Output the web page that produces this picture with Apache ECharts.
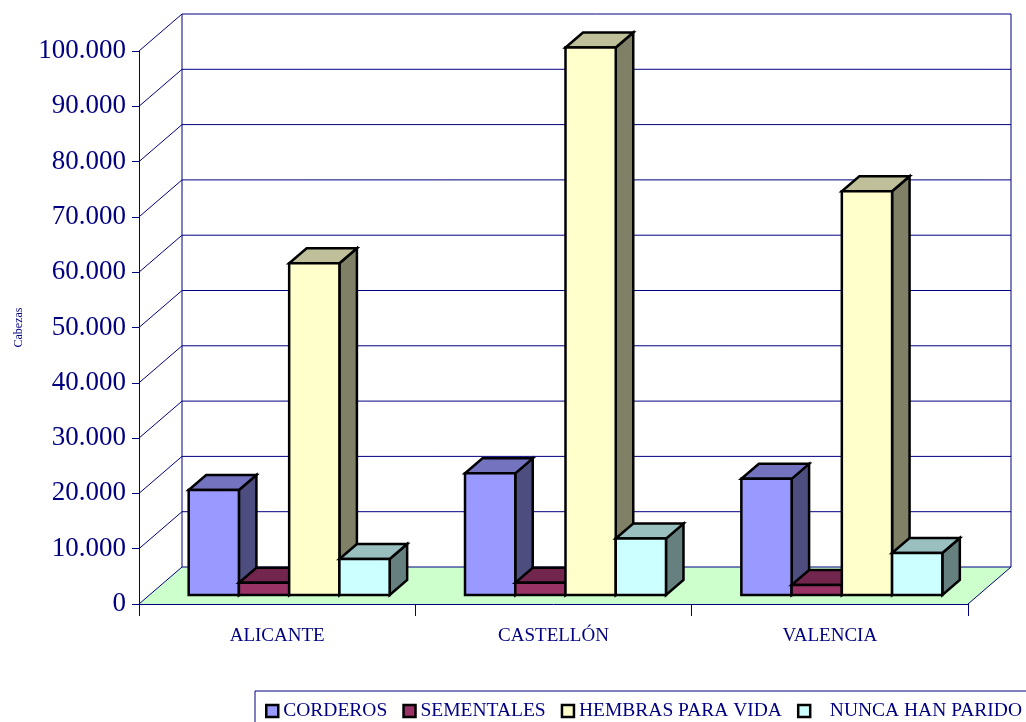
<!DOCTYPE html>
<html><head><meta charset="utf-8">
<script src="https://cdn.jsdelivr.net/npm/echarts@6/dist/echarts.min.js"></script>
<style>html,body{margin:0;padding:0;background:#fff}#c{width:1026px;height:722px}</style>
</head><body><div id="c"></div>
<script>
// ---- data ----
const categories = ['ALICANTE', 'CASTELLÓN', 'VALENCIA'];
const seriesNames = ['CORDEROS', 'SEMENTALES', 'HEMBRAS PARA VIDA', '   NUNCA HAN PARIDO'];
const corderos = [19000, 22000, 21000];
const sementales = [2200, 2200, 1800];
const hembras = [60000, 99000, 73000];
const nuncaHanParido = [6500, 10200, 7600];
const yTicks = [0, 10000, 20000, 30000, 40000, 50000, 60000, 70000, 80000, 90000, 100000];
const yAxisName = 'Cabezas';

// ---- style ----
const NAVY = '#000080';
const FONT = '"Liberation Serif", "Times New Roman", serif';
const DX = 43, DY = -37;          // chart depth
const FX = 12, FY = -9;           // bar front plane offset
const BX = 17.5, BY = -15;        // bar depth
const faces = [
  {front: '#9999FF', top: '#7373BF', side: '#4D4D80'},
  {front: '#993366', top: '#73264D', side: '#4D1A33'},
  {front: '#FFFFCC', top: '#BFBF99', side: '#808066'},
  {front: '#CCFFFF', top: '#99BFBF', side: '#668080'}
];
const allValues = [corderos, sementales, hembras, nuncaHanParido];

function fmt(v) { return String(v).replace(/\B(?=(\d{3})+(?!\d))/g, '.'); }

function frameRender(params, api) {
  const cs = params.coordSys;
  const xl = cs.x, xr = cs.x + cs.width;
  const y0 = api.coord([0, 0])[1];
  const yTop = api.coord([0, yTicks[yTicks.length - 1]])[1];
  const ls = {stroke: NAVY, lineWidth: 1, fill: null};
  const ch = [];
  ch.push({type: 'polygon', shape: {points: [[xl, y0], [xl + DX, y0 + DY], [xr + DX, y0 + DY], [xr, y0]]},
    style: {fill: '#CCFFCC', stroke: null}});
  yTicks.forEach(function (v) {
    const y = api.coord([0, v])[1];
    ch.push({type: 'line', shape: {x1: xl, y1: y, x2: xl + DX, y2: y + DY}, style: ls});
    ch.push({type: 'line', shape: {x1: xl + DX, y1: y + DY, x2: xr + DX, y2: y + DY}, style: ls});
  });
  ch.push({type: 'line', shape: {x1: xl + DX, y1: yTop + DY, x2: xl + DX, y2: y0 + DY}, style: ls});
  ch.push({type: 'line', shape: {x1: xr + DX, y1: yTop + DY, x2: xr + DX, y2: y0 + DY}, style: ls});
  ch.push({type: 'line', shape: {x1: xr, y1: y0, x2: xr + DX, y2: y0 + DY}, style: ls});
  return {type: 'group', children: ch};
}

function barRenderer(si) {
  return function (params, api) {
    const c = api.value(0), v = api.value(1);
    const p0 = api.coord([c, 0]), p1 = api.coord([c, v]);
    const band = api.size([1, 0])[0];
    const w = band / 5.5;
    const x = p0[0] - 2 * w + si * w + FX;
    const yb = p0[1] + FY, yt = p1[1] + FY;
    const f = faces[si];
    const st = {stroke: '#000', lineWidth: 2.5, lineJoin: 'miter'};
    return {type: 'group', children: [
      {type: 'polygon', shape: {points: [[x + w, yt], [x + w + BX, yt + BY], [x + w + BX, yb + BY], [x + w, yb]]},
        style: Object.assign({fill: f.side}, st)},
      {type: 'polygon', shape: {points: [[x, yt], [x + w, yt], [x + w + BX, yt + BY], [x + BX, yt + BY]]},
        style: Object.assign({fill: f.top}, st)},
      {type: 'rect', shape: {x: x, y: yt, width: w, height: yb - yt},
        style: Object.assign({fill: f.front}, st)}
    ]};
  };
}

const series = [{
  type: 'custom', name: 'frame', silent: true, clip: false, z: 1,
  data: [[0, 0]], encode: {x: 0, y: 1}, renderItem: frameRender
}];
allValues.forEach(function (vals, si) {
  series.push({
    type: 'custom', name: seriesNames[si], silent: true, clip: false, z: 2,
    itemStyle: {color: faces[si].front},
    data: vals.map(function (v, i) { return [i, v]; }),
    encode: {x: 0, y: 1},
    renderItem: barRenderer(si)
  });
});

const chart = echarts.init(document.getElementById('c'), null, {renderer: 'canvas'});
chart.setOption({
  animation: false,
  backgroundColor: '#fff',
  grid: {left: 139, top: 51, right: 58, bottom: 118, containLabel: false},
  xAxis: {
    type: 'category', data: categories, z: 10,
    axisLine: {show: true, lineStyle: {color: NAVY, width: 1}},
    axisTick: {show: true, length: 12, interval: 0, lineStyle: {color: NAVY}},
    axisLabel: {color: NAVY, fontFamily: FONT, fontSize: 19, margin: 23, interval: 0},
    splitLine: {show: false}
  },
  yAxis: {
    type: 'value', min: yTicks[0], max: yTicks[yTicks.length - 1], interval: yTicks[1] - yTicks[0], z: 10,
    name: yAxisName, nameLocation: 'middle', nameGap: 114,
    nameTextStyle: {color: NAVY, fontFamily: FONT, fontSize: 12},
    axisLine: {show: true, lineStyle: {color: NAVY, width: 1}},
    axisTick: {show: true, length: 7, lineStyle: {color: NAVY}},
    axisLabel: {color: NAVY, fontFamily: FONT, fontSize: 27, margin: 13, formatter: fmt},
    splitLine: {show: false}
  },
  legend: {
    data: seriesNames, left: 255, top: 691, width: 900,
    orient: 'horizontal', padding: [10, 10, 8, 10],
    icon: 'rect', itemWidth: 12, itemHeight: 12, itemGap: 15,
    itemStyle: {borderColor: '#000', borderWidth: 2.5},
    borderColor: NAVY, borderWidth: 1, backgroundColor: '#fff',
    textStyle: {color: NAVY, fontFamily: FONT, fontSize: 19.5},
    selectedMode: false
  },
  series: series
});
</script>
</body></html>
